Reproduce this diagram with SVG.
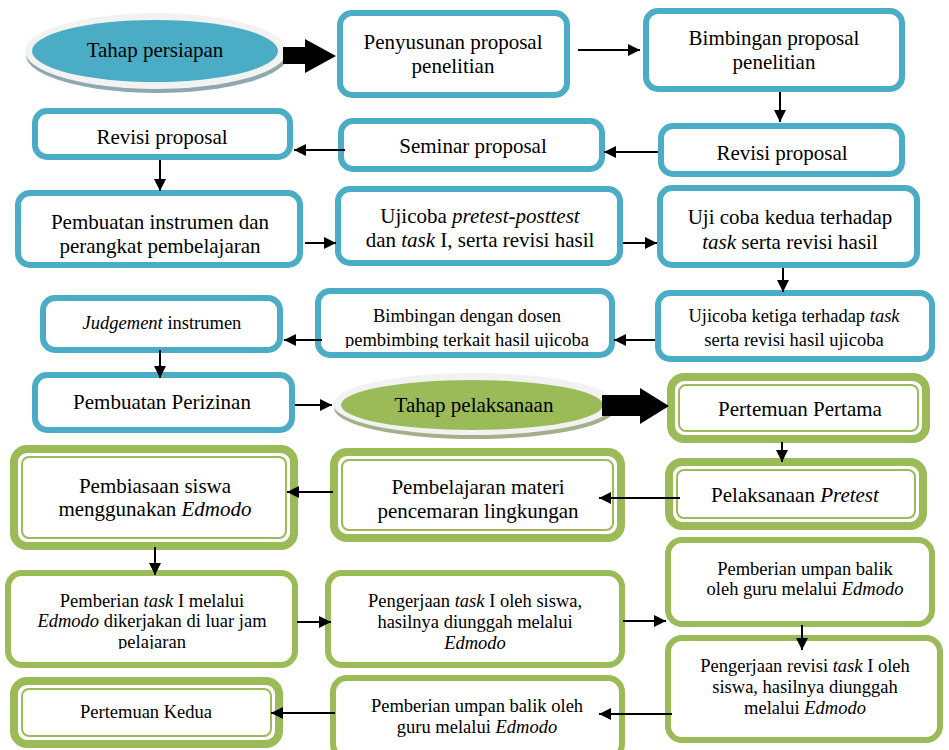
<svg xmlns="http://www.w3.org/2000/svg" width="949" height="750" viewBox="0 0 949 750">
<defs>
<marker id="ah" markerWidth="12" markerHeight="12" refX="10" refY="5" orient="auto" markerUnits="userSpaceOnUse" viewBox="0 0 10 10">
<path d="M0,0 L10,5 L0,10 Z" fill="#000"/>
</marker>
<clipPath id="c10"><rect x="318" y="291" width="294" height="57"/></clipPath>
<clipPath id="cs1"><rect x="8" y="573" width="287" height="76"/></clipPath>
</defs>
<style>
.b{fill:#fff;stroke:#4BACC6;stroke-width:6}
.g{fill:#fff;stroke:#9BBB59;stroke-width:6}
.go{fill:#fff;stroke:#9BBB59;stroke-width:8}
.gi{fill:none;stroke:#9BBB59;stroke-width:2}
text{font-family:"Liberation Serif","Times New Roman",serif;fill:#000;text-anchor:middle}
.L{font-size:21px}
.S{font-size:18.5px}
.c{stroke:#000;stroke-width:2;fill:none;marker-end:url(#ah)}
</style>
<rect width="949" height="750" fill="#fff"/>

<g id="n-tahap-persiapan">
<ellipse cx="157" cy="55" rx="131" ry="38" fill="#8fa7ad"/>
<ellipse cx="156" cy="51" rx="131" ry="38" fill="#F2F2F2"/>
<ellipse cx="155" cy="51" rx="123" ry="31" fill="#4BACC6"/>
<text class="L" x="155" y="57">Tahap persiapan</text>
</g>
<g id="n-penyusunan"><rect class="b" x="340" y="13" width="227" height="82" rx="12"/>
<text class="L" x="453" y="49">Penyusunan proposal</text><text class="L" x="453" y="73">penelitian</text></g>
<g id="n-bimbingan-proposal"><rect class="b" x="646" y="11" width="256" height="78" rx="12"/>
<text class="L" x="774" y="45">Bimbingan proposal</text><text class="L" x="774" y="69">penelitian</text></g>
<g id="n-revisi-proposal-r"><rect class="b" x="661" y="126" width="241" height="48" rx="12"/>
<text class="L" x="782" y="160">Revisi proposal</text></g>
<g id="n-seminar"><rect class="b" x="341" y="121" width="261" height="48" rx="12"/>
<text class="L" x="473" y="153">Seminar proposal</text></g>
<g id="n-revisi-proposal-l"><rect class="b" x="35" y="111" width="255" height="46" rx="12"/>
<text class="L" x="162" y="144">Revisi proposal</text></g>
<g id="n-pembuatan-instrumen"><rect class="b" x="18" y="193" width="282" height="72" rx="12"/>
<text class="L" x="160" y="229">Pembuatan instrumen dan</text><text class="L" x="160" y="253">perangkat pembelajaran</text></g>
<g id="n-ujicoba-pretest"><rect class="b" x="338" y="189" width="282" height="74" rx="12"/>
<text class="L" x="480" y="223">Ujicoba <tspan font-style="italic">pretest-posttest</tspan></text>
<text class="L" x="480" y="247">dan <tspan font-style="italic">task</tspan> I, serta revisi hasil</text></g>
<g id="n-ujicoba-kedua"><rect class="b" x="660" y="188" width="257" height="77" rx="12"/>
<text class="L" x="790" y="224">Uji coba kedua terhadap</text>
<text class="L" x="790" y="249"><tspan font-style="italic">task</tspan> serta revisi hasil</text></g>
<g id="n-ujicoba-ketiga"><rect class="b" x="658" y="293" width="274" height="66" rx="12"/>
<text class="S" x="794" y="322">Ujicoba ketiga terhadap <tspan font-style="italic">task</tspan></text>
<text class="S" x="794" y="346">serta revisi hasil ujicoba</text></g>
<g id="n-bimbingan-dosen"><rect class="b" x="318" y="291" width="294" height="64" rx="12"/>
<g clip-path="url(#c10)"><text class="S" x="467" y="322">Bimbingan dengan dosen</text>
<text class="S" x="467" y="346">pembimbing terkait hasil ujicoba</text></g></g>
<g id="n-judgement"><rect class="b" x="43" y="298" width="237" height="52" rx="12"/>
<text class="S" x="162" y="329"><tspan font-style="italic">Judgement</tspan> instrumen</text></g>
<g id="n-perizinan"><rect class="b" x="35" y="375" width="257" height="55" rx="12"/>
<text class="L" x="162" y="409">Pembuatan Perizinan</text></g>

<g id="n-tahap-pelaksanaan">
<ellipse cx="475" cy="408" rx="141" ry="31" fill="#a3b08a"/>
<ellipse cx="474" cy="404" rx="141" ry="31" fill="#F2F2F2"/>
<ellipse cx="472" cy="405" rx="131" ry="25" fill="#9BBB59"/>
<text class="L" x="474" y="412">Tahap pelaksanaan</text>
</g>
<g id="n-pertemuan-pertama"><rect class="go" x="671" y="377" width="255" height="62" rx="13"/><rect class="gi" x="679" y="385" width="239" height="46" rx="7"/>
<text class="L" x="800" y="416">Pertemuan Pertama</text></g>
<g id="n-pretest"><rect class="go" x="669" y="462" width="254" height="64" rx="13"/><rect class="gi" x="677" y="470" width="238" height="48" rx="7"/>
<text class="L" x="795" y="502">Pelaksanaan <tspan font-style="italic">Pretest</tspan></text></g>
<g id="n-pembelajaran"><rect class="go" x="334" y="452" width="287" height="86" rx="13"/><rect class="gi" x="342" y="460" width="271" height="70" rx="7"/>
<text class="L" x="478" y="494">Pembelajaran materi</text><text class="L" x="478" y="518">pencemaran lingkungan</text></g>
<g id="n-pembiasaan"><rect class="go" x="14" y="449" width="280" height="97" rx="13"/><rect class="gi" x="22" y="457" width="264" height="81" rx="7"/>
<text class="L" x="155" y="493">Pembiasaan siswa</text><text class="L" x="155" y="516">menggunakan <tspan font-style="italic">Edmodo</tspan></text></g>
<g id="n-pemberian-task"><rect class="g" x="8" y="573" width="287" height="92" rx="14"/>
<g clip-path="url(#cs1)"><text class="S" x="152" y="607">Pemberian <tspan font-style="italic">task</tspan> I melalui</text>
<text class="S" x="152" y="627"><tspan font-style="italic">Edmodo</tspan> dikerjakan di luar jam</text>
<text class="S" x="152" y="648">pelajaran</text></g></g>
<g id="n-pengerjaan-task"><rect class="g" x="328" y="573" width="294" height="92" rx="14"/>
<text class="S" x="475" y="607">Pengerjaan <tspan font-style="italic">task</tspan> I oleh siswa,</text>
<text class="S" x="475" y="628">hasilnya diunggah melalui</text>
<text class="S" x="475" y="649" font-style="italic">Edmodo</text></g>
<g id="n-umpan-balik-r"><rect class="g" x="668" y="540" width="264" height="84" rx="14"/>
<text class="S" x="805" y="575">Pemberian umpan balik</text>
<text class="S" x="805" y="595">oleh guru melalui <tspan font-style="italic">Edmodo</tspan></text></g>
<g id="n-pengerjaan-revisi"><rect class="g" x="668" y="638" width="272" height="102" rx="14"/>
<text class="S" x="805" y="672">Pengerjaan revisi <tspan font-style="italic">task</tspan> I oleh</text>
<text class="S" x="805" y="693">siswa, hasilnya diunggah</text>
<text class="S" x="805" y="714">melalui <tspan font-style="italic">Edmodo</tspan></text></g>
<g id="n-umpan-balik-b"><rect class="g" x="333" y="678" width="289" height="80" rx="14"/>
<text class="S" x="477" y="712">Pemberian umpan balik oleh</text>
<text class="S" x="477" y="733">guru melalui <tspan font-style="italic">Edmodo</tspan></text></g>
<g id="n-pertemuan-kedua"><rect class="go" x="14" y="681" width="265" height="63" rx="13"/><rect class="gi" x="22" y="689" width="249" height="47" rx="7"/>
<text class="S" x="146" y="718">Pertemuan Kedua</text></g>

<g id="connectors">
<polygon points="283,47 305,47 305,39 336,56 305,73 305,64 283,64" fill="#000"/>
<polygon points="602,395 640,395 640,388 669,406 640,424 640,416 602,416" fill="#000"/>
<line class="c" x1="578" y1="50" x2="640" y2="50"/>
<line class="c" x1="780" y1="92" x2="780" y2="122"/>
<line class="c" x1="658" y1="152" x2="604" y2="152"/>
<line class="c" x1="345" y1="150" x2="294" y2="150"/>
<line class="c" x1="160" y1="160" x2="160" y2="191"/>
<line class="c" x1="305" y1="243" x2="336" y2="243"/>
<line class="c" x1="623" y1="243" x2="657" y2="243"/>
<line class="c" x1="783" y1="268" x2="783" y2="292"/>
<line class="c" x1="655" y1="340" x2="614" y2="340"/>
<line class="c" x1="322" y1="340" x2="284" y2="340"/>
<line class="c" x1="160" y1="350" x2="160" y2="378"/>
<line class="c" x1="295" y1="405" x2="332" y2="405"/>
<line class="c" x1="782" y1="442" x2="782" y2="462"/>
<line class="c" x1="680" y1="498" x2="599" y2="498"/>
<line class="c" x1="333" y1="492" x2="287" y2="492"/>
<line class="c" x1="155" y1="547" x2="155" y2="575"/>
<line class="c" x1="297" y1="622" x2="331" y2="622"/>
<line class="c" x1="623" y1="621" x2="666" y2="621"/>
<line class="c" x1="802" y1="625" x2="802" y2="650"/>
<line class="c" x1="672" y1="714" x2="599" y2="714"/>
<line class="c" x1="335" y1="713" x2="271" y2="713"/>
</g>
</svg>
